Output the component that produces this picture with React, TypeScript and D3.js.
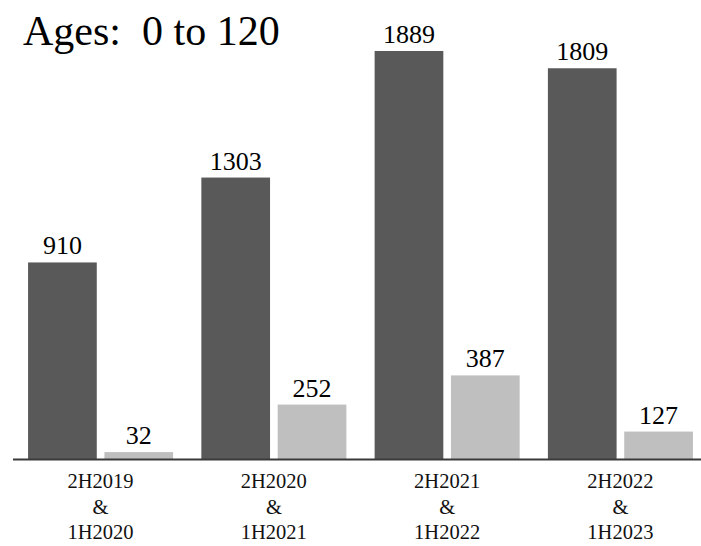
import React from "react";
import * as d3 from "d3";

const categories = ["2H2019 & 1H2020", "2H2020 & 1H2021", "2H2021 & 1H2022", "2H2022 & 1H2023"];
const categoryLines = [
  ["2H2019", "&", "1H2020"],
  ["2H2020", "&", "1H2021"],
  ["2H2021", "&", "1H2022"],
  ["2H2022", "&", "1H2023"],
];
const seriesKeys = ["dark", "light"];
const darkValues = [910, 1303, 1889, 1809];
const lightValues = [32, 252, 387, 127];
const title = "Ages:  0 to 120";

const W = 701;
const H = 546;
const FONT = '"Liberation Serif", "Times New Roman", Times, serif';
const COLORS: Record<string, string> = { dark: "#595959", light: "#bfbfbf" };

export default function App() {
  const x0 = d3.scaleBand<string>().domain(categories).range([13, 708]).paddingInner(0.163).paddingOuter(0.087);
  const x1 = d3.scaleBand<string>().domain(seriesKeys).range([0, x0.bandwidth()]).paddingInner(0.1);
  const y = d3.scaleLinear().domain([0, 2000]).range([459, 27]);
  const rows = categories.map((c, i) => ({ cat: c, lines: categoryLines[i], dark: darkValues[i], light: lightValues[i] }));

  return (
    <svg width={W} height={H} style={{ position: "absolute", left: 0, top: 0, background: "#fff", fontFamily: FONT }}>
      <text x={23} y={45} fontSize={42} fill="#000" style={{ whiteSpace: "pre", fontFamily: FONT }}>{title}</text>
      {rows.map((r) => (
        <g key={r.cat} transform={`translate(${x0(r.cat)},0)`}>
          {seriesKeys.map((k) => {
            const v = (r as any)[k] as number;
            const bx = x1(k)!;
            return (
              <g key={k}>
                <rect x={bx} y={y(v)} width={x1.bandwidth()} height={y(0) - y(v)} fill={COLORS[k]} />
                <text x={bx + x1.bandwidth() / 2} y={y(v) - 8} textAnchor="middle" fontSize={26} fill="#000" style={{ fontFamily: FONT }}>{v}</text>
              </g>
            );
          })}
          {r.lines.map((ln, j) => (
            <text key={j} x={x0.bandwidth() / 2} y={488 + j * 25.5} textAnchor="middle" fontSize={20.5} fill="#111" style={{ fontFamily: FONT }}>{ln}</text>
          ))}
        </g>
      ))}
      <line x1={13} x2={W} y1={y(0) + 0.5} y2={y(0) + 0.5} stroke="#3a3a3a" strokeWidth={2} />
    </svg>
  );
}
